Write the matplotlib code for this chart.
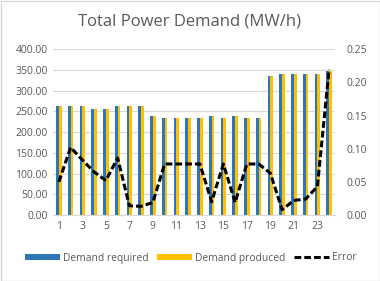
import matplotlib
matplotlib.use("Agg")
import matplotlib.pyplot as plt
from matplotlib.patches import Rectangle
import numpy as np

hours = list(range(1, 25))
demand_required = [263, 263, 263, 256, 256, 263, 263, 263, 239, 234, 234, 234,
                   234, 239, 234, 239, 234, 234, 336, 340, 340, 340, 340, 347]
demand_produced = [263, 263, 263, 256, 256, 263, 263, 263, 239, 234, 234, 234,
                   234, 239, 234, 239, 234, 234, 336, 340, 340, 340, 340, 347]
error = [0.050, 0.102, 0.083, 0.065, 0.052, 0.086, 0.014, 0.013, 0.019, 0.077,
         0.077, 0.077, 0.077, 0.020, 0.077, 0.019, 0.077, 0.077, 0.063, 0.008,
         0.022, 0.024, 0.043, 0.220]
xtick_labels = [str(h) for h in range(1, 25, 2)]
left_ticks = [0, 50, 100, 150, 200, 250, 300, 350, 400]
right_ticks = [0, 0.05, 0.10, 0.15, 0.20, 0.25]

plt.rcParams['font.family'] = ['Open Sans', 'DejaVu Sans']
txt = '#595959'
blue = '#2E75B6'
yellow = '#FFC000'

fig = plt.figure(figsize=(3.8, 2.81), dpi=100)
ax = fig.add_axes([53/380, 1-215/281, (335-53)/380, (215-49.3)/281])
x = np.array(hours)
w = 0.24
ax.bar(x - w/2, demand_required, width=w, color=blue, label='Demand required', zorder=2)
ax.bar(x + w/2, demand_produced, width=w, color=yellow, label='Demand produced', zorder=2)
ax.set_ylim(0, 400)
ax.set_xlim(0.5, 24.5)
ax.set_yticks(left_ticks)
ax.set_yticklabels([f"{v:.2f}" for v in left_ticks])
ax.set_xticks(list(range(1, 25, 2)))
ax.set_xticklabels(xtick_labels)
ax.grid(axis='y', color='#d9d9d9', linewidth=0.8, zorder=0)
ax.set_axisbelow(True)
for s in ['top', 'right', 'left']:
    ax.spines[s].set_visible(False)
ax.spines['bottom'].set_color('#d9d9d9')
ax.tick_params(axis='both', length=0, labelsize=7.5, colors=txt, pad=4)

ax2 = ax.twinx()
ln, = ax2.plot(x, error, color='black', linewidth=2.2, linestyle=(0, (2.2, 1.0)), label='Error', zorder=3)
ax2.set_ylim(0, 0.25)
ax2.set_yticks(right_ticks)
ax2.set_yticklabels([f"{v:.2f}" for v in right_ticks])
for s in ['top', 'right', 'left', 'bottom']:
    ax2.spines[s].set_visible(False)
ax2.tick_params(axis='y', length=0, labelsize=7.5, colors=txt, pad=8)

fig.suptitle('Total Power Demand (MW/h)', x=189/380, y=1-22/281, va='center',
             fontsize=12, color=txt)

h1, l1 = ax.get_legend_handles_labels()
fig.legend(h1 + [ln], l1 + ['Error'], loc='center', bbox_to_anchor=(191/380, 1-258/281),
           ncol=3, frameon=False, fontsize=7.4, labelcolor=txt, handlelength=3.4,
           handleheight=0.6, handletextpad=0.3, columnspacing=0.8)

fig.patches.append(Rectangle((0.5/380, 0.5/281), 1-1/380, 1-1/281, transform=fig.transFigure,
                             fill=False, edgecolor='#d9d9d9', linewidth=1))
fig.savefig('out.png', dpi=100)
